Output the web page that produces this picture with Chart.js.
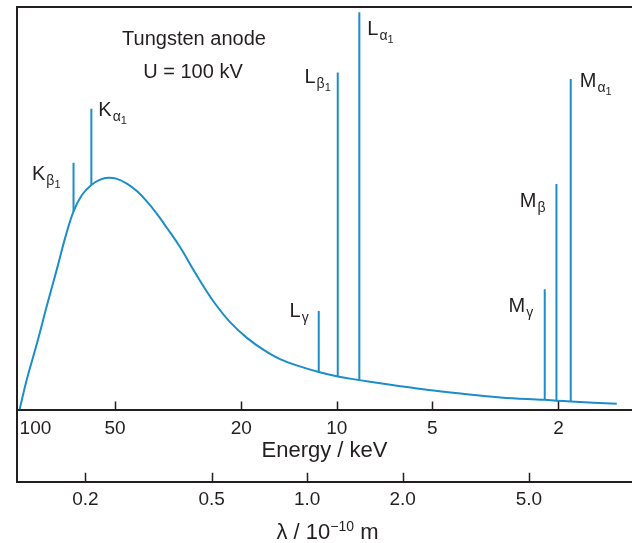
<!DOCTYPE html>
<html>
<head>
<meta charset="utf-8">
<script src="https://cdn.jsdelivr.net/npm/chart.js@4.4.1/dist/chart.umd.min.js"></script>
<style>
  html, body { margin: 0; padding: 0; background: #fff; }
  #wrap { position: relative; width: 632px; height: 543px; }
</style>
</head>
<body>
<div id="wrap"><canvas id="spectrum"></canvas></div>
<script>
// continuum (bremsstrahlung) – energy in keV, intensity in % of plot height
const contEnergy = [100, 94.8, 88.1, 81.9, 76.2, 71.8, 67.6, 63.6, 59.4, 55.7, 52.6, 49.3, 45.9, 42.6,
  39.7, 36.9, 34.3, 31.1, 29.0, 26.9, 24.4, 21.7, 19.2, 17.0, 15.1, 13.3, 11.4, 9.93, 8.49, 7.29,
  6.30, 4.95, 3.88, 3.05, 2.21, 2.03, 1.83, 1.31];
const contIntensity = [0, 7.6, 16.5, 26.0, 35.0, 42.7, 49.2, 53.3, 55.8, 57.1, 57.6, 57.3, 56.1, 54.2,
  51.7, 48.6, 45.1, 40.2, 36.1, 31.8, 26.7, 21.7, 17.8, 14.8, 12.5, 10.9, 9.3, 8.2, 7.3, 6.5,
  5.8, 4.7, 3.8, 3.0, 2.4, 2.2, 2.0, 1.4];

// characteristic lines
const lineShell = ['K', 'K', 'L', 'L', 'L', 'M', 'M', 'M'];
const lineGreek = ['β', 'α', 'γ', 'β', 'α', 'γ', 'β', 'α'];
const lineIndex = ['1', '1', '', '1', '1', '', '', '1'];
const lineEnergy = [67.6, 59.4, 11.4, 9.93, 8.49, 2.21, 2.03, 1.83];
const lineBase = [49.2, 55.8, 9.3, 8.2, 7.3, 2.4, 2.2, 2.0];
const lineTop = [61.3, 74.7, 24.5, 83.7, 98.7, 29.9, 56.0, 82.1];

// axes
const energyTicks = [1.2, 2, 5, 10, 20, 50, 100];   // 1.2 is a blank placeholder
const lambdaTicks = [0.2, 0.5, 1.0, 2.0, 5.0];
const hc = 12.398;            // keV * 1e-10 m
const eMin = 1.173, eMax = 101.9;

// styles
const blue = '#1c8dc9';
const ink = '#231f20';
const family = "'Liberation Sans', Arial, Helvetica, sans-serif";
// label placement relative to the top of each line (px)
const labelPos = [
  { dx: -13, dy: 17, align: 'right' },
  { dx: 7, dy: 7, align: 'left' },
  { dx: -10, dy: 6, align: 'right' },
  { dx: -7, dy: 10, align: 'right' },
  { dx: 8, dy: 23, align: 'left' },
  { dx: -11.5, dy: 22.5, align: 'right' },
  { dx: -11, dy: 22.5, align: 'right' },
  { dx: 9, dy: 8, align: 'left' }
];

const datasets = [{
  data: contEnergy.map((e, i) => ({ x: e, y: contIntensity[i] })),
  borderColor: blue,
  borderWidth: 2,
  pointRadius: 0,
  tension: 0.4
}];
lineEnergy.forEach((e, i) => {
  datasets.push({
    data: [{ x: e, y: lineBase[i] }, { x: e, y: lineTop[i] }],
    borderColor: blue,
    borderWidth: 2,
    pointRadius: 0
  });
});

function drawLineLabel(ctx, i, ax, ay) {
  const p = labelPos[i];
  const base = ay + p.dy;
  ctx.font = '20px ' + family;
  const w1 = ctx.measureText(lineShell[i]).width;
  ctx.font = '14px ' + family;
  const w2 = ctx.measureText(lineGreek[i]).width;
  ctx.font = '11px ' + family;
  const w3 = lineIndex[i] ? ctx.measureText(lineIndex[i]).width : 0;
  const total = w1 + 1 + w2 + w3;
  let x = p.align === 'left' ? ax + p.dx : ax + p.dx - total;
  ctx.textAlign = 'left';
  ctx.textBaseline = 'alphabetic';
  ctx.font = '20px ' + family;
  ctx.fillText(lineShell[i], x, base);
  x += w1 + 1;
  ctx.font = '14px ' + family;
  ctx.fillText(lineGreek[i], x, base + 5);
  x += w2;
  if (lineIndex[i]) {
    ctx.font = '11px ' + family;
    ctx.fillText(lineIndex[i], x, base + 8);
  }
}

const decor = {
  id: 'decor',
  afterDraw(chart) {
    const { ctx, chartArea: ca, scales } = chart;
    const ex = scales.x, lx = scales.lambda, ys = scales.y;
    ctx.save();
    // frame top + left
    ctx.strokeStyle = ink;
    ctx.lineWidth = 2;
    ctx.beginPath();
    ctx.moveTo(ca.left, lx.top);
    ctx.lineTo(ca.left, ca.top);
    ctx.lineTo(ca.right, ca.top);
    ctx.stroke();
    // tick marks pointing up
    ctx.lineWidth = 1.5;
    ctx.beginPath();
    energyTicks.forEach(v => {
      if (v === 1.2 || v === 100) return;
      const px = Math.round(ex.getPixelForValue(v)) + 0.5;
      ctx.moveTo(px, ex.top);
      ctx.lineTo(px, ex.top - 8);
    });
    lambdaTicks.forEach(v => {
      const px = Math.round(lx.getPixelForValue(v)) + 0.5;
      ctx.moveTo(px, lx.top);
      ctx.lineTo(px, lx.top - 9);
    });
    ctx.stroke();

    // line labels
    ctx.fillStyle = ink;
    lineEnergy.forEach((e, i) => {
      drawLineLabel(ctx, i, ex.getPixelForValue(e), ys.getPixelForValue(lineTop[i]));
    });

    // annotation
    ctx.font = '20px ' + family;
    ctx.textAlign = 'center';
    ctx.textBaseline = 'alphabetic';
    ctx.fillText('Tungsten anode', ca.left + 177, ca.top + 38);
    ctx.fillText('U = 100 kV', ca.left + 176, ca.top + 71);

    // wavelength axis title with superscript
    const big = '22px ' + family, small = '14px ' + family;
    ctx.font = big;
    const a = 'λ / 10', c = ' m';
    const wa = ctx.measureText(a).width, wc = ctx.measureText(c).width;
    ctx.font = small;
    const b = '−10';
    const wb = ctx.measureText(b).width;
    const tot = wa + wb + wc;
    let tx = (ca.left + ca.right) / 2 - tot / 2 + 3;
    const by = lx.bottom - 4;
    ctx.textAlign = 'left';
    ctx.font = big;
    ctx.fillText(a, tx, by);
    tx += wa;
    ctx.font = small;
    ctx.fillText(b, tx, by - 8);
    tx += wb;
    ctx.font = big;
    ctx.fillText(c, tx, by);
    ctx.restore();
  }
};

new Chart(document.getElementById('spectrum'), {
  type: 'line',
  data: { datasets },
  options: {
    responsive: true,
    maintainAspectRatio: false,
    animation: false,
    layout: { padding: { top: 7, left: 17, right: 0, bottom: 0 } },
    plugins: { legend: { display: false }, tooltip: { enabled: false } },
    scales: {
      x: {
        type: 'logarithmic',
        position: 'bottom',
        reverse: true,
        weight: 0,
        min: eMin,
        max: eMax,
        grid: { display: false },
        border: { display: true, color: ink, width: 2 },
        ticks: {
          autoSkip: false,
          maxRotation: 0,
          align: 'inner',
          padding: 0,
          color: ink,
          font: { family, size: 19 },
          callback: v => (v === 1.2 ? '' : String(v))
        },
        title: {
          display: true,
          text: 'Energy / keV',
          color: ink,
          font: { family, size: 22 },
          padding: { top: 0, bottom: 18 }
        },
        afterBuildTicks: s => { s.ticks = energyTicks.map(v => ({ value: v })); },
        afterFit: s => { s.height = 72.2; s.paddingLeft = 0; s.paddingRight = 0; }
      },
      lambda: {
        type: 'logarithmic',
        position: 'bottom',
        axis: 'x',
        weight: 1,
        min: hc / eMax,
        max: hc / eMin,
        grid: { display: false },
        border: { display: true, color: ink, width: 2 },
        ticks: {
          autoSkip: false,
          maxRotation: 0,
          padding: -1,
          color: ink,
          font: { family, size: 19 },
          callback: v => v.toFixed(1)
        },
        afterBuildTicks: s => { s.ticks = lambdaTicks.map(v => ({ value: v })); },
        afterFit: s => { s.height = 61.3; s.paddingLeft = 0; s.paddingRight = 0; }
      },
      y: { display: false, min: 0, max: 100 }
    }
  },
  plugins: [decor]
});
</script>
</body>
</html>
